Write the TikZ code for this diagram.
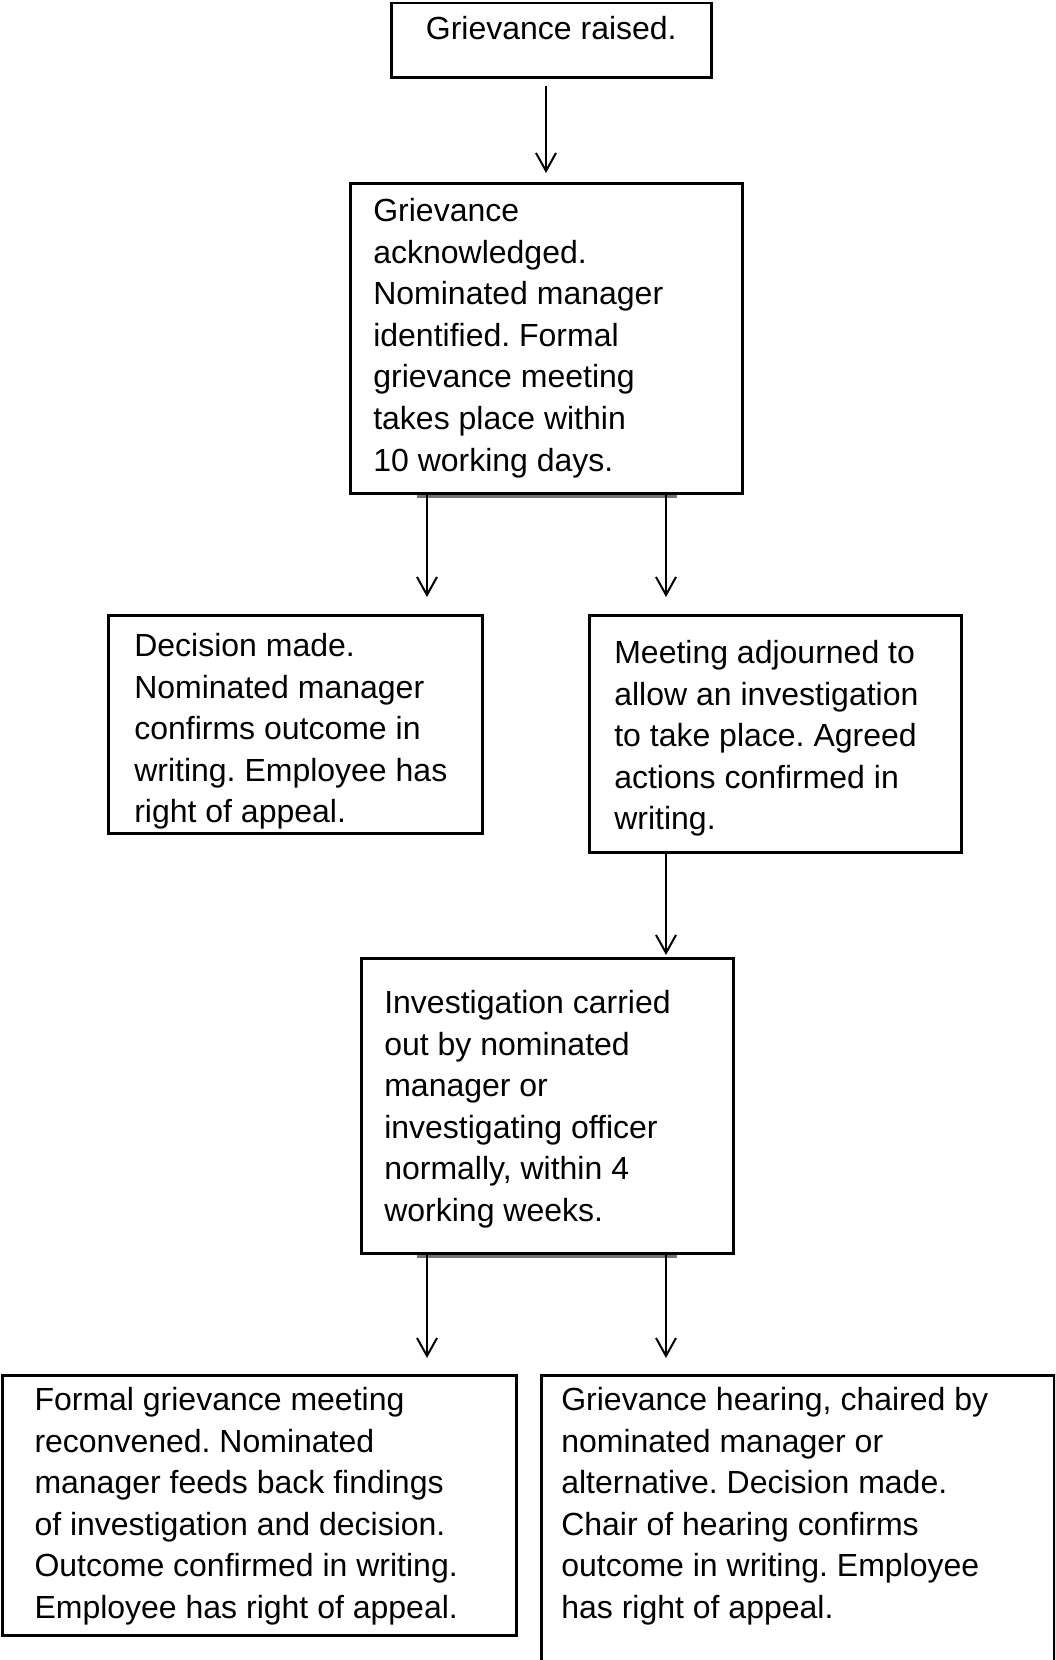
\documentclass[tikz,border=0pt]{standalone}
\usepackage{fontspec}
\setmainfont{Liberation Sans}
\usetikzlibrary{arrows.meta,positioning}
\frenchspacing
\newcommand{\stagetext}[4]{\parbox[t][#2][t]{#1}{\vspace*{#3}\raggedright #4}}

\begin{document}
\begin{tikzpicture}[x=0.5pt,y=-0.5pt,
  stage/.style={draw,line width=1.3pt,inner ysep=0pt,anchor=north west,
                font=\fontsize{16pt}{20.8pt}\selectfont},
  flow/.style={-{Straight Barb[length=9pt,width=10pt,line width=1pt]},line width=1pt},
  bar/.style={draw=black!55,line width=1.5pt}]
\useasboundingbox (0,0) rectangle (1055,1660);
\clip (0,0) rectangle (1055,1660);

\node[stage,inner xsep=5pt] (raised) at (390,1.5)
  {\stagetext{150pt}{37.25pt}{6.75pt}{\centering Grievance raised.}};
\node[stage,inner xsep=11.5pt] (ack) at (349,182)
  {\stagetext{173pt}{155pt}{7.5pt}{Grievance\\acknowledged.\\Nominated manager\\identified. Formal\\grievance meeting\\takes place within\\10 working days.}};
\node[stage,inner xsep=13pt] (decide) at (107,614)
  {\stagetext{161pt}{109pt}{9pt}{Decision made.\\Nominated manager\\confirms outcome in\\writing. Employee has\\right of appeal.}};
\node[stage,inner xsep=12.5pt] (adjourn) at (588,614)
  {\stagetext{161pt}{118.5pt}{12.5pt}{Meeting adjourned to\\allow an investigation\\to take place. Agreed\\actions confirmed in\\writing.}};
\node[stage,inner xsep=11.5pt] (investigate) at (360,957)
  {\stagetext{163pt}{147.5pt}{16pt}{Investigation carried\\out by nominated\\manager or\\investigating officer\\normally, within 4\\working weeks.}};
\node[stage,inner xsep=16pt] (reconvene) at (1.2,1374)
  {\stagetext{224.9pt}{130pt}{6pt}{Formal grievance meeting\\reconvened. Nominated\\manager feeds back findings\\of investigation and decision.\\Outcome confirmed in writing.\\Employee has right of appeal.}};
\node[stage,inner xsep=10pt] (hearing) at (540,1374)
  {\stagetext{236.5pt}{160pt}{6pt}{Grievance hearing, chaired by\\nominated manager or\\alternative. Decision made.\\Chair of hearing confirms\\outcome in writing. Employee\\has right of appeal.}};

\draw[flow,shorten <=3.5pt,shorten >=4.5pt] (546,0 |- raised.south) -- (546,0 |- ack.north);
\draw[bar] ([yshift=-1pt]417,0 |- ack.south) -- ([yshift=-1pt]677,0 |- ack.south);
\draw[flow,shorten >=8.5pt] (427,0 |- ack.south) -- (427,0 |- decide.north);
\draw[flow,shorten >=8.5pt] (666,0 |- ack.south) -- (666,0 |- adjourn.north);
\draw[flow,shorten >=1pt] (666,0 |- adjourn.south) -- (666,0 |- investigate.north);
\draw[bar] ([yshift=-1pt]417,0 |- investigate.south) -- ([yshift=-1pt]677,0 |- investigate.south);
\draw[flow,shorten >=8pt] (427,0 |- investigate.south) -- (427,0 |- reconvene.north);
\draw[flow,shorten >=8pt] (666,0 |- investigate.south) -- (666,0 |- hearing.north);
\end{tikzpicture}
\end{document}
